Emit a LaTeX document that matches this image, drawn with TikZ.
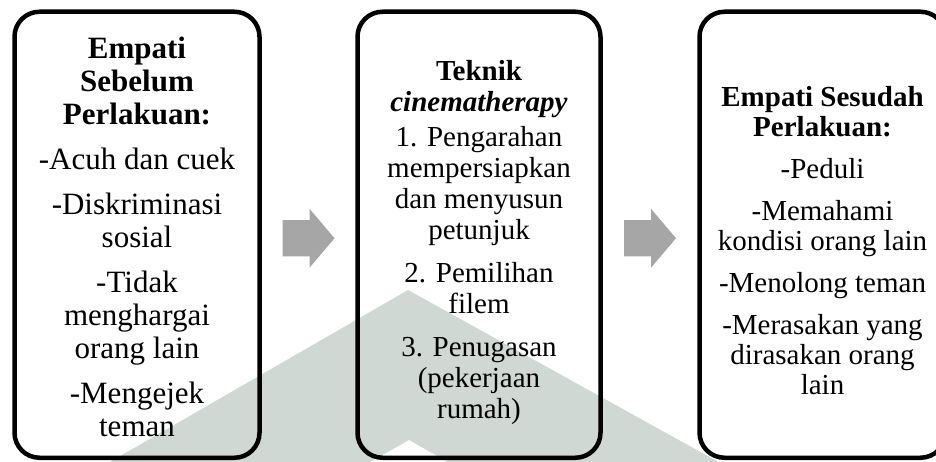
\documentclass[tikz,border=0pt]{standalone}
\usepackage{fontspec}
\setmainfont{Liberation Serif}
\usetikzlibrary{positioning,calc}
\definecolor{arrowgray}{RGB}{166,166,166}
\definecolor{markgray}{RGB}{208,216,212}
\tikzset{
  box/.style={draw, line width=4.5pt, rounded corners=25pt, minimum height=446pt, inner sep=0pt},
  boxtext/.style={align=center, inner sep=0pt},
}
\begin{document}
\begin{tikzpicture}[x=1pt, y=1pt]
        \clip (0, 0) rectangle (936, -462);
        \fill [markgray] (408, -290) -- (96, -470) -- (356, -470) -- (409, -440) -- (462, -470) -- (733, -470) -- cycle;
        \node [box, minimum width=245pt] (before) at (137, -234.75) {};
        \node [box, minimum width=243pt] (technique) at (479, -234.75) {};
        \node [box, minimum width=246pt] (after) at (822.5, -234.75) {};
        \node [boxtext, font=\fontsize{31}{33}\selectfont] (beforetext) at ([yshift=-2pt]before.center)
            {\textbf{Empati}\\\textbf{Sebelum}\\\textbf{Perlakuan:}\\[12pt]-Acuh dan cuek\\[12pt]-Diskriminasi\\sosial\\[12pt]-Tidak\\menghargai\\orang lain\\[12pt]-Mengejek\\teman};
        \node [boxtext, font=\fontsize{29}{31}\selectfont] (techniquetext) at ([yshift=-8pt]technique.center)
            {\textbf{Teknik}\\\textbf{\textit{cinematherapy}}\\[4pt]1. Pengarahan\\mempersiapkan\\dan menyusun\\petunjuk\\[12pt]2. Pemilihan\\filem\\[12pt]3. Penugasan\\(pekerjaan\\rumah)};
        \node [boxtext, font=\fontsize{29}{30}\selectfont] (aftertext) at ([yshift=-6pt]after.center)
            {\textbf{Empati Sesudah}\\\textbf{Perlakuan:}\\[12pt]-Peduli\\[12pt]-Memahami\\kondisi orang lain\\[12pt]-Menolong teman\\[12pt]-Merasakan yang\\dirasakan orang\\lain};
        \coordinate (arrowA) at ($(before.east)!0.5!(technique.west) + (0, -3.5)$);
        \coordinate (arrowB) at ($(technique.east)!0.5!(after.west) + (0, -3.5)$);
        \fill [arrowgray] ($(arrowA) + (-26, 18)$) -- ++(27, 0) -- ++(0, 11.5) -- ++(25, -29.5) -- ++(-25, -29.5) -- ++(0, 11.5) -- ++(-27, 0) -- cycle;
        \fill [arrowgray] ($(arrowB) + (-26, 18)$) -- ++(27, 0) -- ++(0, 11.5) -- ++(25, -29.5) -- ++(-25, -29.5) -- ++(0, 11.5) -- ++(-27, 0) -- cycle;
    \end{tikzpicture}
\end{document}
